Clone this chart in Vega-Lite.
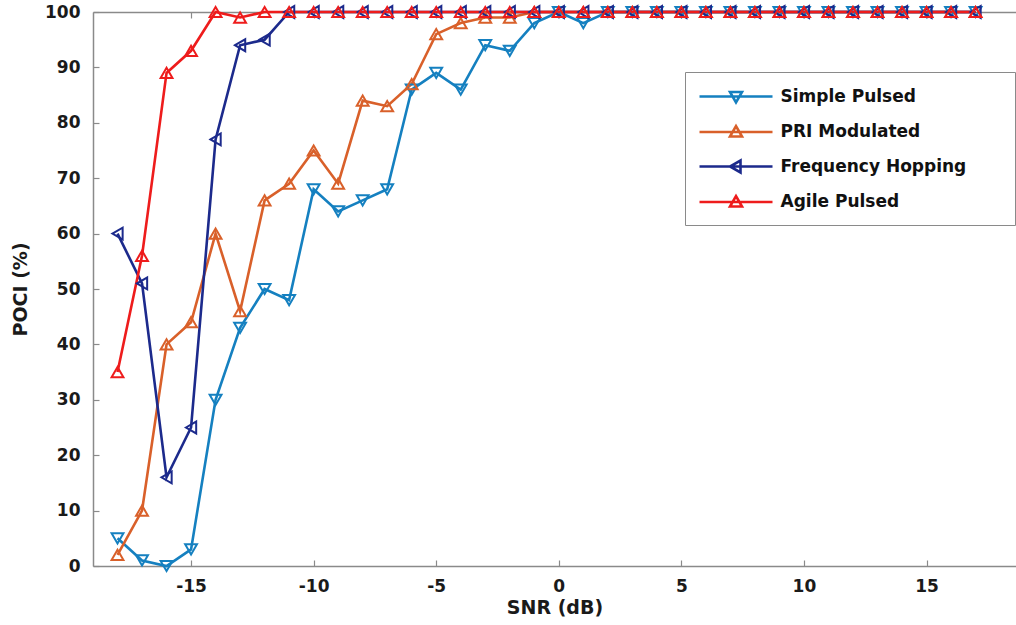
{
  "$schema": "https://vega.github.io/schema/vega-lite/v6.json",
  "autosize": {"type": "none"},
  "padding": {"left": 93, "top": 12, "right": 0, "bottom": 59},
  "width": 923,
  "height": 554,
  "background": "white",
  "config": {
    "view": {"stroke": null},
    "font": "DejaVu Sans",
    "axis": {
      "grid": false,
      "domainColor": "#8a8a8a",
      "domainWidth": 1.5,
      "tickColor": "#8a8a8a",
      "tickWidth": 1.2,
      "tickSize": -6,
      "labelFont": "DejaVu Sans",
      "labelFontSize": 17,
      "labelFontWeight": "bold",
      "labelColor": "#1a1a1a",
      "titleFont": "DejaVu Sans",
      "titleFontSize": 19,
      "titleFontWeight": "bold",
      "titleColor": "#1a1a1a"
    }
  },
  "data": {"values": [
    {"snr": -18, "series": "Simple Pulsed", "poci": 5},
    {"snr": -17, "series": "Simple Pulsed", "poci": 1},
    {"snr": -16, "series": "Simple Pulsed", "poci": 0},
    {"snr": -15, "series": "Simple Pulsed", "poci": 3},
    {"snr": -14, "series": "Simple Pulsed", "poci": 30},
    {"snr": -13, "series": "Simple Pulsed", "poci": 43},
    {"snr": -12, "series": "Simple Pulsed", "poci": 50},
    {"snr": -11, "series": "Simple Pulsed", "poci": 48},
    {"snr": -10, "series": "Simple Pulsed", "poci": 68},
    {"snr": -9, "series": "Simple Pulsed", "poci": 64},
    {"snr": -8, "series": "Simple Pulsed", "poci": 66},
    {"snr": -7, "series": "Simple Pulsed", "poci": 68},
    {"snr": -6, "series": "Simple Pulsed", "poci": 86},
    {"snr": -5, "series": "Simple Pulsed", "poci": 89},
    {"snr": -4, "series": "Simple Pulsed", "poci": 86},
    {"snr": -3, "series": "Simple Pulsed", "poci": 94},
    {"snr": -2, "series": "Simple Pulsed", "poci": 93},
    {"snr": -1, "series": "Simple Pulsed", "poci": 98},
    {"snr": 0, "series": "Simple Pulsed", "poci": 100},
    {"snr": 1, "series": "Simple Pulsed", "poci": 98},
    {"snr": 2, "series": "Simple Pulsed", "poci": 100},
    {"snr": 3, "series": "Simple Pulsed", "poci": 100},
    {"snr": 4, "series": "Simple Pulsed", "poci": 100},
    {"snr": 5, "series": "Simple Pulsed", "poci": 100},
    {"snr": 6, "series": "Simple Pulsed", "poci": 100},
    {"snr": 7, "series": "Simple Pulsed", "poci": 100},
    {"snr": 8, "series": "Simple Pulsed", "poci": 100},
    {"snr": 9, "series": "Simple Pulsed", "poci": 100},
    {"snr": 10, "series": "Simple Pulsed", "poci": 100},
    {"snr": 11, "series": "Simple Pulsed", "poci": 100},
    {"snr": 12, "series": "Simple Pulsed", "poci": 100},
    {"snr": 13, "series": "Simple Pulsed", "poci": 100},
    {"snr": 14, "series": "Simple Pulsed", "poci": 100},
    {"snr": 15, "series": "Simple Pulsed", "poci": 100},
    {"snr": 16, "series": "Simple Pulsed", "poci": 100},
    {"snr": 17, "series": "Simple Pulsed", "poci": 100},
    {"snr": -18, "series": "PRI Modulated", "poci": 2},
    {"snr": -17, "series": "PRI Modulated", "poci": 10},
    {"snr": -16, "series": "PRI Modulated", "poci": 40},
    {"snr": -15, "series": "PRI Modulated", "poci": 44},
    {"snr": -14, "series": "PRI Modulated", "poci": 60},
    {"snr": -13, "series": "PRI Modulated", "poci": 46},
    {"snr": -12, "series": "PRI Modulated", "poci": 66},
    {"snr": -11, "series": "PRI Modulated", "poci": 69},
    {"snr": -10, "series": "PRI Modulated", "poci": 75},
    {"snr": -9, "series": "PRI Modulated", "poci": 69},
    {"snr": -8, "series": "PRI Modulated", "poci": 84},
    {"snr": -7, "series": "PRI Modulated", "poci": 83},
    {"snr": -6, "series": "PRI Modulated", "poci": 87},
    {"snr": -5, "series": "PRI Modulated", "poci": 96},
    {"snr": -4, "series": "PRI Modulated", "poci": 98},
    {"snr": -3, "series": "PRI Modulated", "poci": 99},
    {"snr": -2, "series": "PRI Modulated", "poci": 99},
    {"snr": -1, "series": "PRI Modulated", "poci": 100},
    {"snr": 0, "series": "PRI Modulated", "poci": 100},
    {"snr": 1, "series": "PRI Modulated", "poci": 100},
    {"snr": 2, "series": "PRI Modulated", "poci": 100},
    {"snr": 3, "series": "PRI Modulated", "poci": 100},
    {"snr": 4, "series": "PRI Modulated", "poci": 100},
    {"snr": 5, "series": "PRI Modulated", "poci": 100},
    {"snr": 6, "series": "PRI Modulated", "poci": 100},
    {"snr": 7, "series": "PRI Modulated", "poci": 100},
    {"snr": 8, "series": "PRI Modulated", "poci": 100},
    {"snr": 9, "series": "PRI Modulated", "poci": 100},
    {"snr": 10, "series": "PRI Modulated", "poci": 100},
    {"snr": 11, "series": "PRI Modulated", "poci": 100},
    {"snr": 12, "series": "PRI Modulated", "poci": 100},
    {"snr": 13, "series": "PRI Modulated", "poci": 100},
    {"snr": 14, "series": "PRI Modulated", "poci": 100},
    {"snr": 15, "series": "PRI Modulated", "poci": 100},
    {"snr": 16, "series": "PRI Modulated", "poci": 100},
    {"snr": 17, "series": "PRI Modulated", "poci": 100},
    {"snr": -18, "series": "Frequency Hopping", "poci": 60},
    {"snr": -17, "series": "Frequency Hopping", "poci": 51},
    {"snr": -16, "series": "Frequency Hopping", "poci": 16},
    {"snr": -15, "series": "Frequency Hopping", "poci": 25},
    {"snr": -14, "series": "Frequency Hopping", "poci": 77},
    {"snr": -13, "series": "Frequency Hopping", "poci": 94},
    {"snr": -12, "series": "Frequency Hopping", "poci": 95},
    {"snr": -11, "series": "Frequency Hopping", "poci": 100},
    {"snr": -10, "series": "Frequency Hopping", "poci": 100},
    {"snr": -9, "series": "Frequency Hopping", "poci": 100},
    {"snr": -8, "series": "Frequency Hopping", "poci": 100},
    {"snr": -7, "series": "Frequency Hopping", "poci": 100},
    {"snr": -6, "series": "Frequency Hopping", "poci": 100},
    {"snr": -5, "series": "Frequency Hopping", "poci": 100},
    {"snr": -4, "series": "Frequency Hopping", "poci": 100},
    {"snr": -3, "series": "Frequency Hopping", "poci": 100},
    {"snr": -2, "series": "Frequency Hopping", "poci": 100},
    {"snr": -1, "series": "Frequency Hopping", "poci": 100},
    {"snr": 0, "series": "Frequency Hopping", "poci": 100},
    {"snr": 1, "series": "Frequency Hopping", "poci": 100},
    {"snr": 2, "series": "Frequency Hopping", "poci": 100},
    {"snr": 3, "series": "Frequency Hopping", "poci": 100},
    {"snr": 4, "series": "Frequency Hopping", "poci": 100},
    {"snr": 5, "series": "Frequency Hopping", "poci": 100},
    {"snr": 6, "series": "Frequency Hopping", "poci": 100},
    {"snr": 7, "series": "Frequency Hopping", "poci": 100},
    {"snr": 8, "series": "Frequency Hopping", "poci": 100},
    {"snr": 9, "series": "Frequency Hopping", "poci": 100},
    {"snr": 10, "series": "Frequency Hopping", "poci": 100},
    {"snr": 11, "series": "Frequency Hopping", "poci": 100},
    {"snr": 12, "series": "Frequency Hopping", "poci": 100},
    {"snr": 13, "series": "Frequency Hopping", "poci": 100},
    {"snr": 14, "series": "Frequency Hopping", "poci": 100},
    {"snr": 15, "series": "Frequency Hopping", "poci": 100},
    {"snr": 16, "series": "Frequency Hopping", "poci": 100},
    {"snr": 17, "series": "Frequency Hopping", "poci": 100},
    {"snr": -18, "series": "Agile Pulsed", "poci": 35},
    {"snr": -17, "series": "Agile Pulsed", "poci": 56},
    {"snr": -16, "series": "Agile Pulsed", "poci": 89},
    {"snr": -15, "series": "Agile Pulsed", "poci": 93},
    {"snr": -14, "series": "Agile Pulsed", "poci": 100},
    {"snr": -13, "series": "Agile Pulsed", "poci": 99},
    {"snr": -12, "series": "Agile Pulsed", "poci": 100},
    {"snr": -11, "series": "Agile Pulsed", "poci": 100},
    {"snr": -10, "series": "Agile Pulsed", "poci": 100},
    {"snr": -9, "series": "Agile Pulsed", "poci": 100},
    {"snr": -8, "series": "Agile Pulsed", "poci": 100},
    {"snr": -7, "series": "Agile Pulsed", "poci": 100},
    {"snr": -6, "series": "Agile Pulsed", "poci": 100},
    {"snr": -5, "series": "Agile Pulsed", "poci": 100},
    {"snr": -4, "series": "Agile Pulsed", "poci": 100},
    {"snr": -3, "series": "Agile Pulsed", "poci": 100},
    {"snr": -2, "series": "Agile Pulsed", "poci": 100},
    {"snr": -1, "series": "Agile Pulsed", "poci": 100},
    {"snr": 0, "series": "Agile Pulsed", "poci": 100},
    {"snr": 1, "series": "Agile Pulsed", "poci": 100},
    {"snr": 2, "series": "Agile Pulsed", "poci": 100},
    {"snr": 3, "series": "Agile Pulsed", "poci": 100},
    {"snr": 4, "series": "Agile Pulsed", "poci": 100},
    {"snr": 5, "series": "Agile Pulsed", "poci": 100},
    {"snr": 6, "series": "Agile Pulsed", "poci": 100},
    {"snr": 7, "series": "Agile Pulsed", "poci": 100},
    {"snr": 8, "series": "Agile Pulsed", "poci": 100},
    {"snr": 9, "series": "Agile Pulsed", "poci": 100},
    {"snr": 10, "series": "Agile Pulsed", "poci": 100},
    {"snr": 11, "series": "Agile Pulsed", "poci": 100},
    {"snr": 12, "series": "Agile Pulsed", "poci": 100},
    {"snr": 13, "series": "Agile Pulsed", "poci": 100},
    {"snr": 14, "series": "Agile Pulsed", "poci": 100},
    {"snr": 15, "series": "Agile Pulsed", "poci": 100},
    {"snr": 16, "series": "Agile Pulsed", "poci": 100},
    {"snr": 17, "series": "Agile Pulsed", "poci": 100}
  ]},
  "resolve": {"axis": {"x": "independent"}},
  "layer": [
    {
      "mark": {"type": "line", "strokeWidth": 2.6},
      "encoding": {
        "x": {
          "field": "snr", "type": "quantitative",
          "scale": {"domain": [-19, 18.65], "nice": false, "zero": false},
          "axis": {
            "orient": "bottom",
            "title": "SNR (dB)",
            "values": [-15, -10, -5, 0, 5, 10, 15],
            "labelExpr": "datum.value + ''",
            "labelPadding": 18,
            "titlePadding": 4
          }
        },
        "y": {
          "field": "poci", "type": "quantitative",
          "scale": {"domain": [0, 100], "nice": false},
          "axis": {
            "title": "POCI (%)",
            "values": [0, 10, 20, 30, 40, 50, 60, 70, 80, 90, 100],
            "labelPadding": 19,
            "titlePadding": 14
          }
        },
        "color": {
          "field": "series", "type": "nominal",
          "scale": {
            "domain": ["Simple Pulsed", "PRI Modulated", "Frequency Hopping", "Agile Pulsed"],
            "range": ["#1580c0", "#d9602a", "#1c2a8c", "#ee1c1c"]
          },
          "legend": {
            "orient": "none",
            "legendX": 592,
            "legendY": 60,
            "title": null,
            "symbolSize": 400,
            "symbolOffset": 26.5,
            "symbolStrokeWidth": 2.6,
            "labelFont": "DejaVu Sans",
            "labelFontSize": 17,
            "labelFontWeight": "bold",
            "labelColor": "#111111",
            "labelOffset": 33,
            "labelLimit": 400,
            "padding": 13,
            "rowPadding": 12.5,
            "strokeColor": "#8a8a8a",
            "fillColor": "white",
            "encode": {
              "symbols": {
                "update": {
                  "shape": {"signal": "datum.value == 'Simple Pulsed' ? 'M-3.65,0H3.65M-0.6,-0.45H0.6L0,0.6ZM26,0L26,0' : datum.value == 'Frequency Hopping' ? 'M-3.65,0H3.65M0.45,-0.6V0.6L-0.6,0ZM26,0L26,0' : 'M-3.65,0H3.65M-0.6,0.45H0.6L0,-0.6ZM26,0L26,0'"},
                  "fill": {"value": "transparent"},
                  "strokeWidth": {"value": 2.6},
                  "strokeCap": {"value": "butt"}
                }
              }
            }
          }
        }
      }
    },
    {
      "mark": {"type": "point", "filled": false, "size": 140, "strokeWidth": 2, "opacity": 1},
      "encoding": {
        "x": {
          "field": "snr", "type": "quantitative",
          "axis": {
            "orient": "top",
            "title": null,
            "labels": false,
            "values": [-15, -10, -5, 0, 5, 10, 15]
          }
        },
        "y": {"field": "poci", "type": "quantitative"},
        "color": {"field": "series", "type": "nominal", "legend": null},
        "shape": {
          "field": "series", "type": "nominal",
          "scale": {
            "domain": ["Agile Pulsed", "Frequency Hopping", "PRI Modulated", "Simple Pulsed"],
            "range": ["triangle-up", "triangle-left", "triangle-up", "triangle-down"]
          },
          "legend": null
        }
      }
    }
  ]
}
